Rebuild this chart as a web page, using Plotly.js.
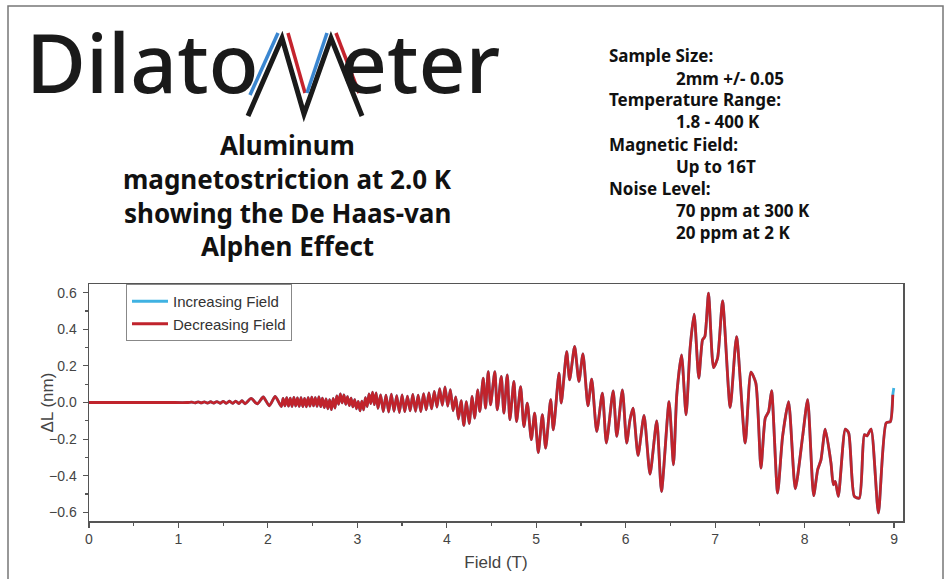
<!DOCTYPE html>
<html>
<head>
<meta charset="utf-8">
<script src="https://cdn.plot.ly/plotly-3.0.1.min.js"></script>
<style>html,body{margin:0;padding:0;background:#fff;}#chart{width:951px;height:579px;}</style>
</head>
<body>
<div id="chart"></div>
<script>
// ---- data (Field in T, ΔL in nm) ----
const field = [0, 0.3, 0.6, 0.9, 1.1,
  1.15,1.185,1.22,1.255,1.29,1.325,1.36,1.395,1.43,1.465,1.5,1.535,1.57,1.605,1.64,1.675,1.71,1.745,
  1.813,1.881,1.948,2.015,2.082,2.149,
  2.17,2.19,2.21,2.23,2.25,2.27,2.29,2.31,2.33,2.35,2.37,2.39,2.41,2.43,2.45,2.47,2.49,2.51,2.53,2.55,2.57,2.59,2.61,2.63,2.65,2.67,2.69,2.71,2.73,2.75,2.77,2.79,2.81,2.83,2.85,2.87,2.89,2.91,2.93,2.95,2.97,2.99,3.01,3.03,3.05,3.07,3.09,3.11,3.13,3.15,3.17,3.19,3.21,3.23,
  3.26,3.29,3.32,3.35,3.38,3.41,3.44,3.47,3.5,3.53,3.56,3.59,3.62,3.65,3.68,3.71,3.74,3.77,3.8,3.83,3.86,3.89,3.92,3.95,3.98,4.01,4.04,4.07,4.1,4.13,4.16,4.19,4.22,4.25,
  4.284,4.31,4.347,4.369,4.407,4.433,4.463,4.489,4.537,4.564,4.609,4.638,4.676,4.705,4.75,4.78,4.825,4.862,4.9,4.945,4.982,5.023,5.068,5.105,5.161,5.191,5.254,5.28,5.34,5.373,5.429,5.477,5.522,5.578,5.62,5.676,5.739,5.784,5.86,5.9,5.963,6.011,6.048,6.082,6.138,6.205,6.272,6.347,6.4,6.485,6.534,6.571,6.624,6.675,6.72,6.765,6.817,6.859,6.885,6.926,6.982,7.027,7.083,7.168,7.239,7.336,7.4,7.455,7.512,7.56,7.598,7.631,7.698,7.754,7.821,7.896,7.978,8.034,8.101,8.146,8.183,8.231,8.295,8.321,8.343,8.377,8.455,8.493,8.556,8.612,8.668,8.698,8.743,8.825,8.911,8.959,8.986];
const deltaL = [0,0,0,0,0,
  0.002,-0.002,0.003,-0.002,0.003,-0.003,0.004,-0.003,0.005,-0.004,0.006,-0.004,0.007,-0.005,0.008,-0.006,0.010,-0.007,
  0.022,-0.008,0.030,-0.018,0.033,-0.022,
  0.022,-0.018,0.026,-0.020,0.024,-0.022,0.028,-0.019,0.025,-0.021,0.027,-0.022,0.023,-0.024,0.026,-0.020,0.029,-0.018,0.027,-0.021,0.030,-0.023,0.024,-0.028,0.020,-0.034,0.015,-0.039,0.022,-0.030,0.036,-0.010,0.047,-0.002,0.042,-0.010,0.032,-0.017,0.024,-0.024,0.016,-0.034,0.006,-0.045,0.008,-0.040,0.027,-0.022,0.047,-0.006,0.056,-0.012,0.052,-0.032,
  0.042,-0.050,0.040,-0.052,0.046,-0.048,0.038,-0.055,0.042,-0.050,0.035,-0.045,0.044,-0.048,0.040,-0.050,0.048,-0.040,0.052,-0.035,0.060,-0.025,0.075,-0.015,0.085,-0.020,0.070,-0.045,0.030,-0.090,0.010,-0.125,0.005,-0.115,
  0.033,-0.085,0.069,-0.049,0.133,-0.031,0.169,-0.013,0.169,-0.040,0.142,-0.058,0.151,-0.094,0.115,-0.104,0.087,-0.131,-0.003,-0.203,-0.058,-0.273,-0.067,-0.249,0.015,-0.149,0.160,-0.003,0.278,0.124,0.306,0.115,0.266,-0.018,0.128,-0.158,0.051,-0.221,0.064,-0.185,0.069,-0.221,-0.094,-0.031,-0.289,-0.071,-0.391,-0.100,-0.486,0.005,-0.340,0.042,0.260,-0.067,0.297,0.482,0.133,0.342,0.360,0.597,0.191,0.242,0.555,-0.027,0.360,-0.221,0.166,0.106,-0.358,-0.085,-0.049,0.065,-0.494,-0.185,0.005,-0.472,-0.185,0.015,-0.509,-0.367,-0.313,-0.145,-0.331,-0.449,-0.431,-0.513,-0.145,-0.167,-0.513,-0.522,-0.176,-0.182,-0.145,-0.603,-0.112,-0.104,0.042];
// increasing-field sweep ends a little higher at 9 T
const incTailField = [8.997];
const incTailDL = [0.079];
const seriesNames = ["Increasing Field", "Decreasing Field"];
const xTicks = [0,1,2,3,4,5,6,7,8,9];
const yTicks = [-0.6,-0.4,-0.2,0,0.2,0.4,0.6];

// ---- layout helpers (pixel -> paper) ----
const L=89,R=903,T=284,B=521;
const px=v=>(v-L)/(R-L), py=v=>(B-v)/(B-T);

const traces = [
  {x: field.concat(incTailField), y: deltaL.concat(incTailDL), name: seriesNames[0], type:'scatter', mode:'lines',
   line:{color:'#3fb2e2', width:2.8, shape:'spline', smoothing:0.6}},
  {x: field, y: deltaL, name: seriesNames[1], type:'scatter', mode:'lines',
   line:{color:'#c0232c', width:2.8, shape:'spline', smoothing:0.6}}
];

const lineOf=(x0,y0,x1,y1,c,w)=>({type:'line',xref:'paper',yref:'paper',x0:px(x0),y0:py(y0),x1:px(x1),y1:py(y1),line:{color:c,width:w}});
const shapes = [
  {type:'rect',xref:'paper',yref:'paper',x0:px(8),y0:py(6),x1:px(943),y1:py(640),line:{color:'#777',width:1.5},layer:'below'},
  // M of the logo
  {type:'path',xref:'paper',yref:'paper',
   path:`M ${px(248)} ${py(116)} L ${px(282)} ${py(38)} L ${px(304)} ${py(114)} L ${px(331)} ${py(38)} L ${px(362)} ${py(116)}`,
   line:{color:'#1a1a1a',width:5}},
  lineOf(250,95,278,33,'#3a86d0',3.5),
  lineOf(288,33,305,93,'#c4232d',3.5),
  lineOf(307,93,327,33,'#3a86d0',3.5),
  lineOf(336,33,359,93,'#c4232d',3.5)
];

const tFont = {family:'Noto Sans', size:26, color:'#111', weight:700};
const iFont = {family:'Noto Sans', size:17, color:'#111', weight:700};
const titleLines = ["Aluminum","magnetostriction at 2.0 K","showing the De Haas-van","Alphen Effect"];
const titleY = [145,179,213,246];
const infoHead = ["Sample Size:","Temperature Range:","Magnetic Field:","Noise Level:"];
const infoHeadY = [55,100,144,188];
const infoVal = ["2mm +/- 0.05","1.8 - 400 K","Up to 16T","70 ppm at 300 K","20 ppm at 2 K"];
const infoValY = [78,122,166,210,232];

const logoFont = {family:'Noto Sans', size:82, color:'#1a1a1a', weight:500};
const annotations = [];
annotations.push({xref:'paper',yref:'paper',x:px(24),y:py(61),xanchor:'left',yanchor:'middle',showarrow:false,
  text:'Dilato',font:logoFont});
annotations.push({xref:'paper',yref:'paper',x:px(338),y:py(61),xanchor:'left',yanchor:'middle',showarrow:false,
  text:'eter',font:logoFont});
titleLines.forEach((t,i)=>annotations.push({xref:'paper',yref:'paper',x:px(287),y:py(titleY[i]),xanchor:'center',yanchor:'middle',showarrow:false,text:t,font:tFont}));
infoHead.forEach((t,i)=>annotations.push({xref:'paper',yref:'paper',x:px(607),y:py(infoHeadY[i]),xanchor:'left',yanchor:'middle',showarrow:false,text:t,font:iFont}));
infoVal.forEach((t,i)=>annotations.push({xref:'paper',yref:'paper',x:px(674),y:py(infoValY[i]),xanchor:'left',yanchor:'middle',showarrow:false,text:t,font:iFont}));
// y-axis title placed close to the tick labels, as in the reference
annotations.push({xref:'paper',yref:'paper',x:px(47),y:0.5,xanchor:'center',yanchor:'middle',showarrow:false,textangle:-90,
  text:'ΔL (nm)',font:{family:'Liberation Sans', size:17, color:'#444'}});

const axFont = {family:'Liberation Sans', size:14, color:'#444'};
const layout = {
  width:951, height:579,
  margin:{l:L, r:951-R, t:T, b:579-B, pad:0},
  paper_bgcolor:'#fff', plot_bgcolor:'#fff',
  showlegend:true,
  legend:{x:px(126), y:1, xanchor:'left', yanchor:'top', bgcolor:'#fff', bordercolor:'#888', borderwidth:1,
          font:{family:'Liberation Sans', size:15, color:'#333'}, tracegroupgap:0, itemwidth:36},
  xaxis:{range:[0,9.1], tickvals:xTicks, ticks:'outside', ticklen:5, tickwidth:1.2, tickcolor:'#555',
         showline:true, linecolor:'#555', linewidth:1.5, mirror:true, showgrid:false, zeroline:false,
         tickfont:axFont, minor:{dtick:0.5, tick0:0, ticks:'outside', ticklen:3, tickcolor:'#555', showgrid:false},
         title:{text:'Field (T)', font:{family:'Liberation Sans', size:17, color:'#444'}, standoff:10}},
  yaxis:{range:[-0.647,0.647], tickvals:yTicks, tickformat:'.1f', ticks:'outside', ticklen:5, tickwidth:1.2, tickcolor:'#555',
         showline:true, linecolor:'#555', linewidth:1.5, mirror:true, showgrid:false, zeroline:false, ticklabelstandoff:3,
         tickfont:axFont, minor:{dtick:0.1, tick0:0, ticks:'outside', ticklen:3, tickcolor:'#555', showgrid:false}},
  shapes: shapes,
  annotations: annotations
};
Plotly.newPlot('chart', traces, layout, {staticPlot:true, displayModeBar:false});
</script>
</body>
</html>
